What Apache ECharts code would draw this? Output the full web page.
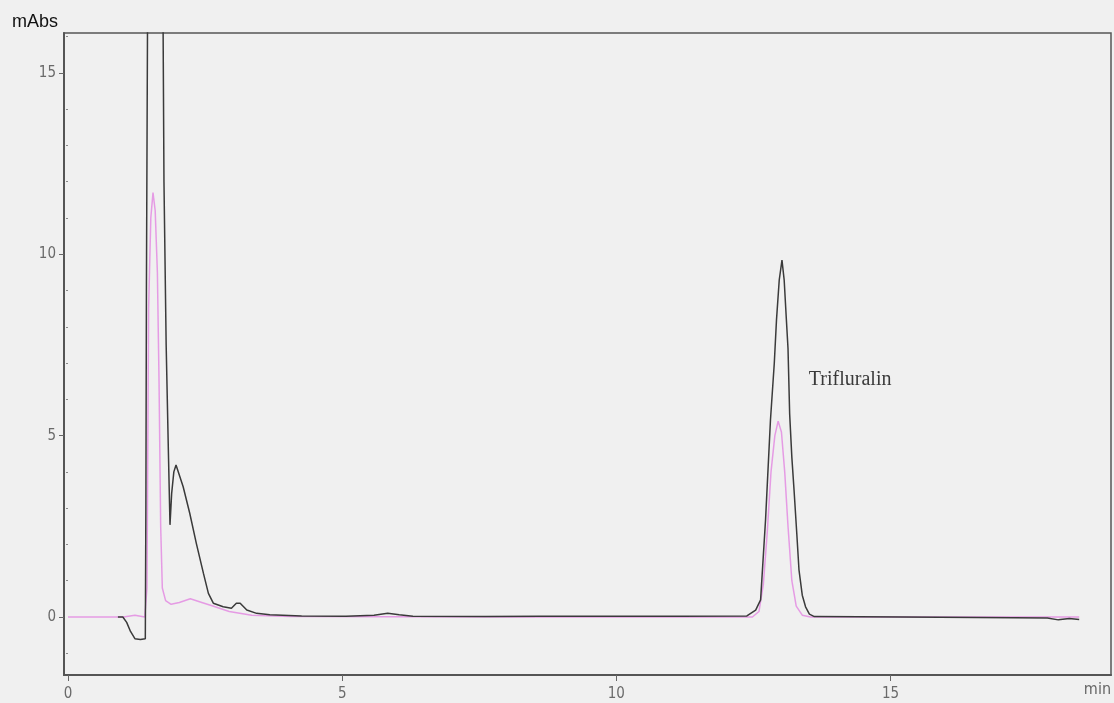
<!DOCTYPE html>
<html>
<head>
<meta charset="utf-8">
<script src="https://cdn.jsdelivr.net/npm/echarts@6/dist/echarts.min.js"></script>
<style>
html,body{margin:0;padding:0;background:#f0f0f0;}
#chart{width:1114px;height:703px;}
</style>
</head>
<body>
<div id="chart"></div>
<script>
// Retention time (min) and absorbance (mAbs) for the dark trace
var blackTime = [0.91,1.00,1.07,1.14,1.22,1.32,1.41,1.42,1.43,1.46,1.59,1.72,1.75,1.79,1.83,1.86,1.89,1.93,1.97,2.10,2.22,2.34,2.47,2.56,2.65,2.83,2.98,3.07,3.14,3.26,3.44,3.68,4.26,5.07,5.58,5.83,6.04,6.29,7.61,8.62,9.64,11.16,12.38,12.54,12.63,12.72,12.81,12.88,12.92,12.97,13.02,13.06,13.10,13.13,13.16,13.20,13.24,13.29,13.33,13.39,13.45,13.52,13.61,15.22,17.25,17.86,18.06,18.26,18.44];
var blackAbs  = [0.00,0.00,-0.15,-0.40,-0.60,-0.62,-0.60,3.0,9.0,20,30,20,12,7.5,4.6,2.54,3.4,4.0,4.19,3.59,2.86,2.03,1.20,0.65,0.38,0.28,0.24,0.38,0.38,0.19,0.10,0.06,0.03,0.02,0.05,0.10,0.06,0.02,0.01,0.02,0.02,0.02,0.03,0.19,0.47,2.67,5.43,7.0,8.19,9.29,9.84,9.29,8.2,7.4,5.6,4.4,3.5,2.3,1.3,0.6,0.28,0.08,0.01,0.00,-0.02,-0.03,-0.08,-0.04,-0.07];
// Pink (second wavelength) trace
var pinkTime = [0.00,1.01,1.22,1.40,1.44,1.47,1.51,1.55,1.59,1.63,1.66,1.69,1.72,1.78,1.88,2.03,2.23,2.44,2.64,2.94,3.35,4.06,8.12,12.48,12.60,12.68,12.75,12.82,12.89,12.95,13.01,13.07,13.13,13.20,13.28,13.39,13.54,18.44];
var pinkAbs  = [0.00,0.00,0.05,0.00,0.80,8.5,11.0,11.7,11.2,9.5,6.5,2.5,0.8,0.45,0.35,0.40,0.50,0.40,0.30,0.15,0.05,0.01,0.00,0.00,0.15,0.90,2.3,4.0,5.0,5.4,5.1,4.0,2.5,1.0,0.3,0.05,0.00,0.00];
// Axis ticks and labels
var xTicks = [0,5,10,15];
var yTicks = [0,5,10,15];
var yMinorTicks = [-1,1,2,3,4,6,7,8,9,11,12,13,14,16];
var peakLabel = {text:'Trifluralin', t:13.51, v:6.53};

function pairs(t, v){ return t.map(function(x,i){ return [x, v[i]]; }); }

var labelFont = "'Liberation Sans Narrow','DejaVu Sans Condensed','Liberation Sans',sans-serif";
var chart = echarts.init(document.getElementById('chart'), null, {renderer:'canvas'});
chart.setOption({
  backgroundColor:'#f0f0f0',
  animation:false,
  grid:{left:64, right:2, top:33, bottom:28, show:true, borderColor:'#555', borderWidth:1.5, backgroundColor:'transparent'},
  xAxis:{
    type:'value', min:-0.073, max:19.02,
    name:'min', nameLocation:'end', nameGap:0,
    nameTextStyle:{color:'#666', fontSize:16, fontFamily:labelFont, align:'right', verticalAlign:'top', padding:[7,0,0,0]},
    axisLine:{show:true, onZero:false, lineStyle:{color:'#555', width:2}},
    axisTick:{show:true, length:6, customValues:xTicks, lineStyle:{color:'#666'}},
    axisLabel:{customValues:xTicks, color:'#6a6a6a', fontSize:15, fontFamily:labelFont, margin:12},
    splitLine:{show:false}
  },
  yAxis:[{
    type:'value', min:-1.6, max:16.1,
    name:'mAbs', nameLocation:'end', nameGap:2,
    nameTextStyle:{color:'#111', fontSize:18, fontFamily:"'Liberation Sans',Arial,sans-serif", align:'right', padding:[0,6,0,0]},
    axisLine:{show:true, onZero:false, lineStyle:{color:'#555', width:2}},
    axisTick:{show:true, length:5, customValues:yTicks, lineStyle:{color:'#666'}},
    axisLabel:{customValues:yTicks, color:'#6a6a6a', fontSize:15, fontFamily:labelFont, margin:8},
    splitLine:{show:false}
  },{
    type:'value', min:-1.6, max:16.1, position:'left',
    axisLine:{show:false},
    axisTick:{show:true, length:2, customValues:yMinorTicks, lineStyle:{color:'#888'}},
    axisLabel:{show:false},
    splitLine:{show:false}
  }],
  series:[{
    type:'line', name:'pink', data:pairs(pinkTime, pinkAbs), showSymbol:false, smooth:false,
    lineStyle:{color:'#e27fe0', width:1.5, opacity:0.75}, z:2
  },{
    type:'line', name:'black', data:pairs(blackTime, blackAbs), showSymbol:false, smooth:false,
    lineStyle:{color:'#3a3a3a', width:1.5}, z:3,
    markPoint:{
      symbol:'circle', symbolSize:0, silent:true,
      data:[{coord:[peakLabel.t, peakLabel.v], value:peakLabel.text}],
      label:{show:true, position:'right', distance:0, formatter:peakLabel.text, color:'#3a3a3a', fontSize:20, fontFamily:"'Liberation Serif','DejaVu Serif',serif"}
    }
  }]
});
</script>
</body>
</html>
